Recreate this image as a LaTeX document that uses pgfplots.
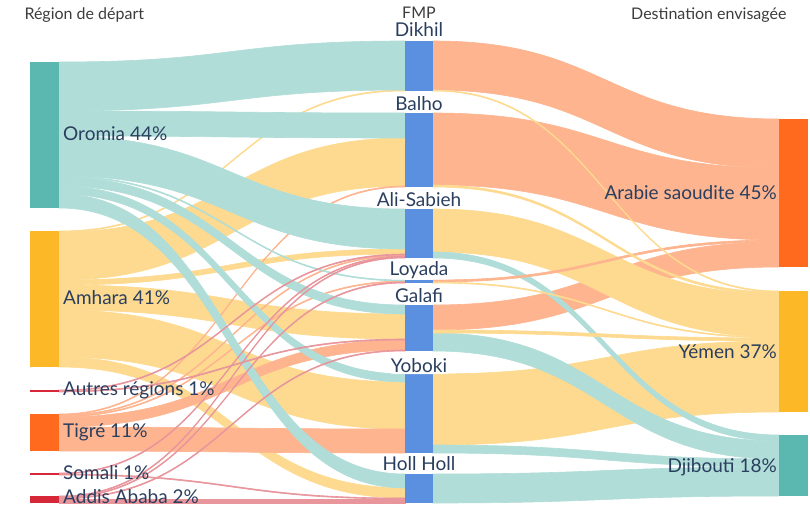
\documentclass[border=0pt]{standalone}
\usepackage{pgfplots}
\pgfplotsset{compat=1.18}
\usepackage{fontspec}
\setmainfont{Lato}
\definecolor{cTeal}{HTML}{5BB8B0}
\definecolor{cGold}{HTML}{FDB827}
\definecolor{cOrange}{HTML}{FF6A1F}
\definecolor{cRed}{HTML}{D62839}
\definecolor{cBlue}{HTML}{5B8FE0}
\definecolor{lTeal}{HTML}{B0DDD8}
\definecolor{lGold}{HTML}{FDDA8F}
\definecolor{lOrange}{HTML}{FDB48F}
\definecolor{lRed}{HTML}{E8959C}
\definecolor{cText}{HTML}{2A3F5F}
\definecolor{cHead}{HTML}{3C3C3C}
% flow: x0, x1, y0 (top at source), y1 (top at target), width, colour
\newcommand{\flow}[6]{\filldraw[fill=#6, draw=#6, line width=0.6bp] (#1,#3) .. controls ({(#1+#2)/2},#3) and ({(#1+#2)/2},#4) .. (#2,#4) -- (#2,{#4+#5}) .. controls ({(#1+#2)/2},{#4+#5}) and ({(#1+#2)/2},{#3+#5}) .. (#1,{#3+#5}) -- cycle;}
% node bar: x0, x1, ytop, ybottom, colour
\newcommand{\nodebar}[5]{\addplot[fill=#5, draw=none, mark=none] coordinates {(#1,#3) (#2,#3) (#2,#4) (#1,#4)} -- cycle;}
\begin{document}
\begin{tikzpicture}
\begin{axis}[
  width=810bp, height=510bp, scale only axis,
  xmin=0, xmax=810, ymin=0, ymax=510, y dir=reverse,
  enlargelimits=false, hide axis, clip=false]
\path (0,0) rectangle (810,510);
% ---- left -> FMP flows ----
% Amhara
\flow{59}{405}{231}{90}{1}{lGold}
\flow{59}{405}{232}{138}{48}{lGold}
\flow{59}{405}{280}{249}{5}{lGold}
\flow{59}{405}{285}{314}{25}{lGold}
\flow{59}{405}{310}{382}{47}{lGold}
\flow{59}{405}{357}{488}{10}{lGold}
% Tigre
\flow{59}{405}{414}{186}{1}{lOrange}
\flow{59}{405}{415}{255}{1}{lOrange}
\flow{59}{405}{416}{281}{1}{lOrange}
\flow{59}{405}{417}{340}{10}{lOrange}
\flow{59}{405}{427}{429}{24}{lOrange}
% Oromia
\flow{59}{405}{62}{41}{49}{lTeal}
\flow{59}{405}{111}{113}{25}{lTeal}
\flow{59}{405}{136}{209}{40}{lTeal}
\flow{59}{405}{176}{280}{1}{lTeal}
\flow{59}{405}{177}{305}{9}{lTeal}
\flow{59}{405}{186}{374}{8}{lTeal}
\flow{59}{405}{194}{474}{14}{lTeal}
% Autres regions
\flow{59}{405}{390}{254}{1}{lRed}
\flow{59}{405}{391}{339}{1}{lRed}
% Somali
\flow{59}{405}{473}{256}{1}{lRed}
\flow{59}{405}{474}{498}{1}{lRed}
% Addis Ababa
\flow{59}{405}{496}{257}{1}{lRed}
\flow{59}{405}{497}{282}{1}{lRed}
\flow{59}{405}{498}{350}{1}{lRed}
\flow{59}{405}{499}{499}{4}{lRed}
% ---- FMP -> destination flows ----
\flow{433}{779}{41}{119}{49}{lOrange}
\flow{433}{779}{113}{168}{72}{lOrange}
\flow{433}{779}{305}{242}{25}{lOrange}
\flow{433}{779}{209}{294}{43}{lGold}
\flow{433}{779}{374}{341}{71}{lGold}
\flow{433}{779}{474}{467}{29}{lTeal}
\flow{433}{779}{333}{441}{18}{lTeal}
\flow{433}{779}{445}{459}{8}{lTeal}
\flow{433}{779}{252}{435}{6}{lTeal}
\flow{433}{779}{280}{240}{2}{lOrange}
\flow{433}{779}{90}{291}{1}{lGold}
\flow{433}{779}{185}{292}{2}{lGold}
\flow{433}{779}{282}{337}{1}{lGold}
\flow{433}{779}{330}{338}{3}{lGold}
% ---- nodes ----
\nodebar{30}{59}{62}{208}{cTeal}
\nodebar{30}{59}{231}{367}{cGold}
\nodebar{30}{59}{390}{392}{cRed}
\nodebar{30}{59}{414}{451}{cOrange}
\nodebar{30}{59}{473}{475}{cRed}
\nodebar{30}{59}{496}{503}{cRed}
\nodebar{405}{433}{41}{91}{cBlue}
\nodebar{405}{433}{113}{187}{cBlue}
\nodebar{405}{433}{209}{258}{cBlue}
\nodebar{405}{433}{280}{283}{cBlue}
\nodebar{405}{433}{305}{351}{cBlue}
\nodebar{405}{433}{374}{453}{cBlue}
\nodebar{405}{433}{474}{503}{cBlue}
\nodebar{779}{808}{119}{267}{cOrange}
\nodebar{779}{808}{291}{412}{cGold}
\nodebar{779}{808}{435}{496}{cTeal}
% ---- headers ----
\node[anchor=west, text=cHead, font=\fontsize{16bp}{19bp}\selectfont] at (21,15) {Région de départ};
\node[text=cHead, font=\fontsize{16bp}{19bp}\selectfont] at (419,13) {FMP};
\node[anchor=east, text=cHead, font=\fontsize{16bp}{19bp}\selectfont] at (790,15) {Destination envisagée};
% ---- left labels ----
\begin{scope}[every node/.style={anchor=west, text=cText, font=\fontsize{19bp}{22bp}\selectfont, inner sep=0pt}]
\node at (63,134) {Oromia 44\%};
\node at (63,298) {Amhara 41\%};
\node at (63,390) {Autres régions 1\%};
\node at (63,432) {Tigré 11\%};
\node at (63,473) {Somali 1\%};
\node at (63,497) {Addis Ababa 2\%};
\end{scope}
% ---- middle labels ----
\begin{scope}[every node/.style={text=cText, font=\fontsize{19bp}{22bp}\selectfont, fill=white, fill opacity=0.85, text opacity=1, rounded corners=9bp, inner xsep=6bp, inner ysep=1bp}]
\node at (419,30) {Dikhil};
\node at (419,104) {Balho};
\node at (419,200) {Ali-Sabieh};
\node at (419,270) {Loyada};
\node at (419,296) {Galafi};
\node at (419,366) {Yoboki};
\node at (419,464) {Holl Holl};
\end{scope}
% ---- right labels ----
\begin{scope}[every node/.style={anchor=east, text=cText, font=\fontsize{19bp}{22bp}\selectfont, inner sep=0pt}]
\node at (777,193) {Arabie saoudite 45\%};
\node at (777,352) {Yémen 37\%};
\node at (777,467) {Djibouti 18\%};
\end{scope}
\end{axis}
\end{tikzpicture}
\end{document}
